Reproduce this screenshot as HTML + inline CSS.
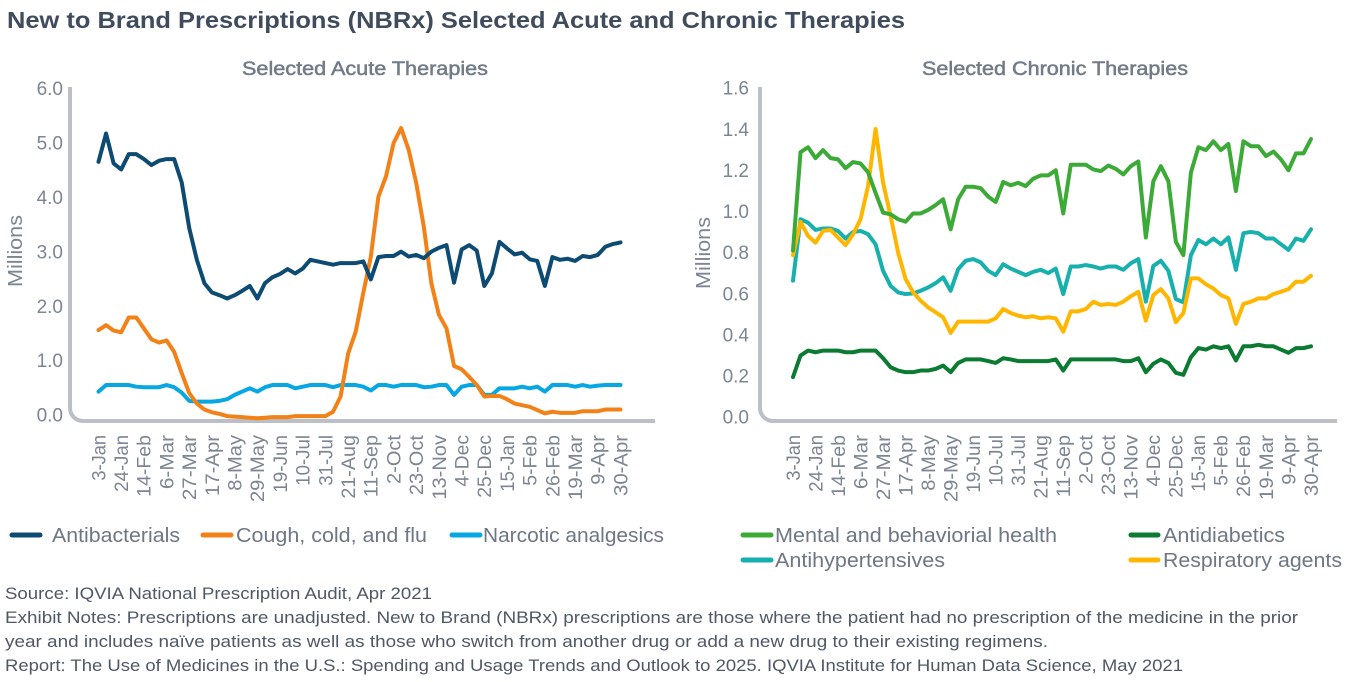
<!DOCTYPE html>
<html><head><meta charset="utf-8"><style>
html,body{margin:0;padding:0;background:#fff;}
svg{display:block;}
text{font-family:"Liberation Sans",Arial,sans-serif;}
</style></head><body>
<svg width="1352" height="682" viewBox="0 0 1352 682" xmlns="http://www.w3.org/2000/svg">
<rect width="1352" height="682" fill="#fff"/>
<text x="7" y="28" font-size="23" font-weight="bold" fill="#404c5e" textLength="898" lengthAdjust="spacingAndGlyphs">New to Brand Prescriptions (NBRx) Selected Acute and Chronic Therapies</text>
<text x="242" y="75" font-size="19" fill="#727b88" stroke="#727b88" stroke-width="0.5" textLength="246" lengthAdjust="spacingAndGlyphs">Selected Acute Therapies</text>
<text x="922" y="75" font-size="19" fill="#727b88" stroke="#727b88" stroke-width="0.5" textLength="266" lengthAdjust="spacingAndGlyphs">Selected Chronic Therapies</text>

<!-- axes -->
<path d="M70,87 V408 A13,13 0 0 0 83,421 H655" fill="none" stroke="#bcc0c6" stroke-width="4"/>
<path d="M760,87 V408 A13,13 0 0 0 773,421 H1337" fill="none" stroke="#bcc0c6" stroke-width="4"/>

<!-- Millions -->
<text transform="translate(15,251) rotate(-90)" text-anchor="middle" dy="0.35em" font-size="20" fill="#7c8593" textLength="72" lengthAdjust="spacingAndGlyphs">Millions</text>
<text transform="translate(703,253) rotate(-90)" text-anchor="middle" dy="0.35em" font-size="20" fill="#7c8593" textLength="72" lengthAdjust="spacingAndGlyphs">Millions</text>

<!-- left y ticks -->
<g font-size="19" fill="#7c8593" text-anchor="end">
<text x="63" y="415" dy="0.35em">0.0</text>
<text x="63" y="360.55" dy="0.35em">1.0</text>
<text x="63" y="306.1" dy="0.35em">2.0</text>
<text x="63" y="251.65" dy="0.35em">3.0</text>
<text x="63" y="197.2" dy="0.35em">4.0</text>
<text x="63" y="142.75" dy="0.35em">5.0</text>
<text x="63" y="88.3" dy="0.35em">6.0</text>
</g>
<!-- right y ticks -->
<g font-size="19" fill="#7c8593" text-anchor="end">
<text x="749" y="417" dy="0.35em">0.0</text>
<text x="749" y="375.9" dy="0.35em">0.2</text>
<text x="749" y="334.8" dy="0.35em">0.4</text>
<text x="749" y="293.6" dy="0.35em">0.6</text>
<text x="749" y="252.5" dy="0.35em">0.8</text>
<text x="749" y="211.4" dy="0.35em">1.0</text>
<text x="749" y="170.3" dy="0.35em">1.2</text>
<text x="749" y="129.2" dy="0.35em">1.4</text>
<text x="749" y="88" dy="0.35em">1.6</text>
</g>

<!-- left x labels -->
<g font-size="19.5" fill="#7c8593" text-anchor="end">
<text transform="translate(98.5,435) rotate(-90)" dy="0.35em" textLength="45.6" lengthAdjust="spacingAndGlyphs">3-Jan</text>
<text transform="translate(121.2,435) rotate(-90)" dy="0.35em" textLength="56.7" lengthAdjust="spacingAndGlyphs">24-Jan</text>
<text transform="translate(143.9,435) rotate(-90)" dy="0.35em" textLength="61.9" lengthAdjust="spacingAndGlyphs">14-Feb</text>
<text transform="translate(166.6,435) rotate(-90)" dy="0.35em" textLength="54.1" lengthAdjust="spacingAndGlyphs">6-Mar</text>
<text transform="translate(189.3,435) rotate(-90)" dy="0.35em" textLength="65.2" lengthAdjust="spacingAndGlyphs">27-Mar</text>
<text transform="translate(212.0,435) rotate(-90)" dy="0.35em" textLength="61.0" lengthAdjust="spacingAndGlyphs">17-Apr</text>
<text transform="translate(234.7,435) rotate(-90)" dy="0.35em" textLength="55.8" lengthAdjust="spacingAndGlyphs">8-May</text>
<text transform="translate(257.4,435) rotate(-90)" dy="0.35em" textLength="67.0" lengthAdjust="spacingAndGlyphs">29-May</text>
<text transform="translate(280.1,435) rotate(-90)" dy="0.35em" textLength="57.7" lengthAdjust="spacingAndGlyphs">19-Jun</text>
<text transform="translate(302.8,435) rotate(-90)" dy="0.35em" textLength="50.8" lengthAdjust="spacingAndGlyphs">10-Jul</text>
<text transform="translate(325.5,435) rotate(-90)" dy="0.35em" textLength="50.8" lengthAdjust="spacingAndGlyphs">31-Jul</text>
<text transform="translate(348.2,435) rotate(-90)" dy="0.35em" textLength="63.7" lengthAdjust="spacingAndGlyphs">21-Aug</text>
<text transform="translate(370.9,435) rotate(-90)" dy="0.35em" textLength="62.2" lengthAdjust="spacingAndGlyphs">11-Sep</text>
<text transform="translate(393.6,435) rotate(-90)" dy="0.35em" textLength="49.0" lengthAdjust="spacingAndGlyphs">2-Oct</text>
<text transform="translate(416.3,435) rotate(-90)" dy="0.35em" textLength="60.2" lengthAdjust="spacingAndGlyphs">23-Oct</text>
<text transform="translate(439.0,435) rotate(-90)" dy="0.35em" textLength="64.7" lengthAdjust="spacingAndGlyphs">13-Nov</text>
<text transform="translate(461.7,435) rotate(-90)" dy="0.35em" textLength="51.6" lengthAdjust="spacingAndGlyphs">4-Dec</text>
<text transform="translate(484.4,435) rotate(-90)" dy="0.35em" textLength="62.8" lengthAdjust="spacingAndGlyphs">25-Dec</text>
<text transform="translate(507.1,435) rotate(-90)" dy="0.35em" textLength="56.7" lengthAdjust="spacingAndGlyphs">15-Jan</text>
<text transform="translate(529.8,435) rotate(-90)" dy="0.35em" textLength="50.8" lengthAdjust="spacingAndGlyphs">5-Feb</text>
<text transform="translate(552.5,435) rotate(-90)" dy="0.35em" textLength="61.9" lengthAdjust="spacingAndGlyphs">26-Feb</text>
<text transform="translate(575.2,435) rotate(-90)" dy="0.35em" textLength="65.2" lengthAdjust="spacingAndGlyphs">19-Mar</text>
<text transform="translate(597.9,435) rotate(-90)" dy="0.35em" textLength="49.9" lengthAdjust="spacingAndGlyphs">9-Apr</text>
<text transform="translate(620.6,435) rotate(-90)" dy="0.35em" textLength="61.0" lengthAdjust="spacingAndGlyphs">30-Apr</text>
</g>
<!-- right x labels -->
<g font-size="19.5" fill="#7c8593" text-anchor="end">
<text transform="translate(793.0,435) rotate(-90)" dy="0.35em" textLength="45.6" lengthAdjust="spacingAndGlyphs">3-Jan</text>
<text transform="translate(815.5,435) rotate(-90)" dy="0.35em" textLength="56.7" lengthAdjust="spacingAndGlyphs">24-Jan</text>
<text transform="translate(838.0,435) rotate(-90)" dy="0.35em" textLength="61.9" lengthAdjust="spacingAndGlyphs">14-Feb</text>
<text transform="translate(860.6,435) rotate(-90)" dy="0.35em" textLength="54.1" lengthAdjust="spacingAndGlyphs">6-Mar</text>
<text transform="translate(883.1,435) rotate(-90)" dy="0.35em" textLength="65.2" lengthAdjust="spacingAndGlyphs">27-Mar</text>
<text transform="translate(905.6,435) rotate(-90)" dy="0.35em" textLength="61.0" lengthAdjust="spacingAndGlyphs">17-Apr</text>
<text transform="translate(928.1,435) rotate(-90)" dy="0.35em" textLength="55.8" lengthAdjust="spacingAndGlyphs">8-May</text>
<text transform="translate(950.6,435) rotate(-90)" dy="0.35em" textLength="67.0" lengthAdjust="spacingAndGlyphs">29-May</text>
<text transform="translate(973.2,435) rotate(-90)" dy="0.35em" textLength="57.7" lengthAdjust="spacingAndGlyphs">19-Jun</text>
<text transform="translate(995.7,435) rotate(-90)" dy="0.35em" textLength="50.8" lengthAdjust="spacingAndGlyphs">10-Jul</text>
<text transform="translate(1018.2,435) rotate(-90)" dy="0.35em" textLength="50.8" lengthAdjust="spacingAndGlyphs">31-Jul</text>
<text transform="translate(1040.7,435) rotate(-90)" dy="0.35em" textLength="63.7" lengthAdjust="spacingAndGlyphs">21-Aug</text>
<text transform="translate(1063.3,435) rotate(-90)" dy="0.35em" textLength="62.2" lengthAdjust="spacingAndGlyphs">11-Sep</text>
<text transform="translate(1085.8,435) rotate(-90)" dy="0.35em" textLength="49.0" lengthAdjust="spacingAndGlyphs">2-Oct</text>
<text transform="translate(1108.3,435) rotate(-90)" dy="0.35em" textLength="60.2" lengthAdjust="spacingAndGlyphs">23-Oct</text>
<text transform="translate(1130.8,435) rotate(-90)" dy="0.35em" textLength="64.7" lengthAdjust="spacingAndGlyphs">13-Nov</text>
<text transform="translate(1153.3,435) rotate(-90)" dy="0.35em" textLength="51.6" lengthAdjust="spacingAndGlyphs">4-Dec</text>
<text transform="translate(1175.9,435) rotate(-90)" dy="0.35em" textLength="62.8" lengthAdjust="spacingAndGlyphs">25-Dec</text>
<text transform="translate(1198.4,435) rotate(-90)" dy="0.35em" textLength="56.7" lengthAdjust="spacingAndGlyphs">15-Jan</text>
<text transform="translate(1220.9,435) rotate(-90)" dy="0.35em" textLength="50.8" lengthAdjust="spacingAndGlyphs">5-Feb</text>
<text transform="translate(1243.4,435) rotate(-90)" dy="0.35em" textLength="61.9" lengthAdjust="spacingAndGlyphs">26-Feb</text>
<text transform="translate(1266.0,435) rotate(-90)" dy="0.35em" textLength="65.2" lengthAdjust="spacingAndGlyphs">19-Mar</text>
<text transform="translate(1288.5,435) rotate(-90)" dy="0.35em" textLength="49.9" lengthAdjust="spacingAndGlyphs">9-Apr</text>
<text transform="translate(1311.0,435) rotate(-90)" dy="0.35em" textLength="61.0" lengthAdjust="spacingAndGlyphs">30-Apr</text>
</g>

<!-- left series -->
<g transform="translate(98.5,415) scale(7.565,-54.45)" fill="none" stroke-width="4" stroke-linejoin="round" stroke-linecap="round">
<polyline vector-effect="non-scaling-stroke" stroke="#06a7e2" points="0,0.43 1,0.55 2,0.55 3,0.55 4,0.55 5,0.52 6,0.51 7,0.51 8,0.51 9,0.55 10,0.51 11,0.41 12,0.26 13,0.245 14,0.245 15,0.245 16,0.26 17,0.29 18,0.37 19,0.43 20,0.49 21,0.43 22,0.51 23,0.55 24,0.55 25,0.55 26,0.49 27,0.52 28,0.55 29,0.55 30,0.55 31,0.51 32,0.55 33,0.55 34,0.55 35,0.52 36,0.45 37,0.55 38,0.55 39,0.52 40,0.55 41,0.55 42,0.55 43,0.51 44,0.52 45,0.55 46,0.55 47,0.37 48,0.52 49,0.55 50,0.55 51,0.37 52,0.37 53,0.49 54,0.49 55,0.49 56,0.52 57,0.49 58,0.52 59,0.43 60,0.55 61,0.55 62,0.55 63,0.52 64,0.55 65,0.52 66,0.54 67,0.55 68,0.55 69,0.55"/>
<polyline vector-effect="non-scaling-stroke" stroke="#f28118" points="0,1.56 1,1.65 2,1.55 3,1.52 4,1.79 5,1.79 6,1.59 7,1.39 8,1.33 9,1.37 10,1.16 11,0.77 12,0.40 13,0.21 14,0.10 15,0.05 16,0.02 17,-0.02 18,-0.03 19,-0.04 20,-0.05 21,-0.06 22,-0.05 23,-0.04 24,-0.04 25,-0.04 26,-0.02 27,-0.02 28,-0.02 29,-0.02 30,-0.02 31,0.06 32,0.34 33,1.13 34,1.53 35,2.24 36,2.91 37,4.01 38,4.38 39,4.99 40,5.27 41,4.87 42,4.26 43,3.46 44,2.42 45,1.84 46,1.59 47,0.90 48,0.84 49,0.70 50,0.55 51,0.34 52,0.35 53,0.35 54,0.29 55,0.21 56,0.18 57,0.15 58,0.09 59,0.03 60,0.06 61,0.04 62,0.04 63,0.04 64,0.07 65,0.07 66,0.07 67,0.10 68,0.10 69,0.10"/>
<polyline vector-effect="non-scaling-stroke" stroke="#0d4b73" points="0,4.65 1,5.17 2,4.62 3,4.51 4,4.79 5,4.79 6,4.70 7,4.59 8,4.67 9,4.70 10,4.70 11,4.27 12,3.43 13,2.85 14,2.42 15,2.25 16,2.20 17,2.14 18,2.20 19,2.28 20,2.37 21,2.14 22,2.42 23,2.53 24,2.59 25,2.68 26,2.60 27,2.69 28,2.85 29,2.82 30,2.79 31,2.76 32,2.79 33,2.79 34,2.79 35,2.82 36,2.49 37,2.90 38,2.92 39,2.92 40,3.00 41,2.91 42,2.94 43,2.88 44,3.00 45,3.07 46,3.12 47,2.43 48,3.04 49,3.12 50,3.02 51,2.37 52,2.60 53,3.18 54,3.06 55,2.95 56,2.98 57,2.86 58,2.83 59,2.37 60,2.90 61,2.85 62,2.87 63,2.83 64,2.92 65,2.90 66,2.94 67,3.09 68,3.14 69,3.17"/>
</g>

<!-- right series -->
<g transform="translate(793,417) scale(7.507,-205.6)" fill="none" stroke-width="4" stroke-linejoin="round" stroke-linecap="round">
<polyline vector-effect="non-scaling-stroke" stroke="#0a7b31" points="0,0.194 1,0.299 2,0.323 3,0.315 4,0.323 5,0.323 6,0.323 7,0.315 8,0.315 9,0.323 10,0.323 11,0.323 12,0.286 13,0.242 14,0.226 15,0.218 16,0.218 17,0.226 18,0.226 19,0.234 20,0.25 21,0.218 22,0.263 23,0.28 24,0.28 25,0.28 26,0.272 27,0.263 28,0.286 29,0.28 30,0.272 31,0.272 32,0.272 33,0.272 34,0.272 35,0.28 36,0.226 37,0.28 38,0.28 39,0.28 40,0.28 41,0.28 42,0.28 43,0.28 44,0.272 45,0.272 46,0.286 47,0.218 48,0.259 49,0.28 50,0.263 51,0.215 52,0.205 53,0.291 54,0.335 55,0.328 56,0.344 57,0.335 58,0.344 59,0.275 60,0.344 61,0.344 62,0.351 63,0.344 64,0.344 65,0.328 66,0.312 67,0.335 68,0.335 69,0.344"/>
<polyline vector-effect="non-scaling-stroke" stroke="#17b0ad" points="0,0.663 1,0.962 2,0.945 3,0.91 4,0.917 5,0.917 6,0.905 7,0.868 8,0.9 9,0.905 10,0.889 11,0.84 12,0.711 13,0.638 14,0.606 15,0.598 16,0.601 17,0.614 18,0.63 19,0.651 20,0.679 21,0.614 22,0.719 23,0.76 24,0.768 25,0.752 26,0.711 27,0.69 28,0.743 29,0.722 30,0.706 31,0.69 32,0.706 33,0.716 34,0.7 35,0.722 36,0.598 37,0.732 38,0.732 39,0.739 40,0.732 41,0.722 42,0.732 43,0.732 44,0.716 45,0.748 46,0.768 47,0.561 48,0.735 49,0.76 50,0.711 51,0.574 52,0.558 53,0.787 54,0.861 55,0.84 56,0.868 57,0.84 58,0.873 59,0.716 60,0.894 61,0.9 62,0.894 63,0.868 64,0.868 65,0.84 66,0.813 67,0.868 68,0.857 69,0.913"/>
<polyline vector-effect="non-scaling-stroke" stroke="#ffb600" points="0,0.787 1,0.949 2,0.881 3,0.848 4,0.905 5,0.91 6,0.873 7,0.836 8,0.889 9,0.962 10,1.123 11,1.401 12,1.139 13,0.978 14,0.8 15,0.671 16,0.606 17,0.566 18,0.533 19,0.509 20,0.485 21,0.409 22,0.464 23,0.464 24,0.464 25,0.464 26,0.464 27,0.48 28,0.525 29,0.506 30,0.493 31,0.485 32,0.49 33,0.48 34,0.485 35,0.48 36,0.415 37,0.514 38,0.514 39,0.525 40,0.561 41,0.545 42,0.55 43,0.545 44,0.561 45,0.587 46,0.609 47,0.469 48,0.593 49,0.622 50,0.577 51,0.461 52,0.506 53,0.674 54,0.674 55,0.646 56,0.625 57,0.593 58,0.577 59,0.453 60,0.55 61,0.561 62,0.577 63,0.577 64,0.598 65,0.609 66,0.622 67,0.658 68,0.658 69,0.687"/>
<polyline vector-effect="non-scaling-stroke" stroke="#3caa36" points="0,0.81 1,1.288 2,1.312 3,1.259 4,1.298 5,1.259 6,1.253 7,1.21 8,1.24 9,1.233 10,1.19 11,1.09 12,0.994 13,0.986 14,0.962 15,0.95 16,0.99 17,0.99 18,1.007 19,1.031 20,1.059 21,0.913 22,1.059 23,1.12 24,1.12 25,1.113 26,1.072 27,1.046 28,1.143 29,1.127 30,1.139 31,1.123 32,1.159 33,1.175 34,1.175 35,1.2 36,0.99 37,1.227 38,1.227 39,1.227 40,1.204 41,1.196 42,1.223 43,1.207 44,1.18 45,1.22 46,1.243 47,0.873 48,1.147 49,1.22 50,1.147 51,0.852 52,0.787 53,1.188 54,1.312 55,1.298 56,1.341 57,1.298 58,1.328 59,1.099 60,1.341 61,1.317 62,1.317 63,1.269 64,1.291 65,1.253 66,1.2 67,1.282 68,1.282 69,1.352"/>
</g>

<!-- legends -->
<g stroke-width="5" stroke-linecap="round">
<line x1="12" y1="535" x2="40" y2="535" stroke="#0d4b73"/>
<line x1="203" y1="535" x2="231" y2="535" stroke="#f28118"/>
<line x1="452" y1="535" x2="480" y2="535" stroke="#06a7e2"/>
<line x1="743" y1="535" x2="771" y2="535" stroke="#3caa36"/>
<line x1="1131" y1="535" x2="1158" y2="535" stroke="#0a7b31"/>
<line x1="743" y1="560" x2="771" y2="560" stroke="#17b0ad"/>
<line x1="1131" y1="560" x2="1158" y2="560" stroke="#ffb600"/>
</g>
<g font-size="20" fill="#6e7785">
<text x="52" y="542" textLength="128" lengthAdjust="spacingAndGlyphs">Antibacterials</text>
<text x="236" y="542" textLength="191" lengthAdjust="spacingAndGlyphs">Cough, cold, and flu</text>
<text x="483" y="542" textLength="181" lengthAdjust="spacingAndGlyphs">Narcotic analgesics</text>
<text x="775" y="542" textLength="282" lengthAdjust="spacingAndGlyphs">Mental and behaviorial health</text>
<text x="1163" y="542" textLength="122" lengthAdjust="spacingAndGlyphs">Antidiabetics</text>
<text x="775" y="567" textLength="170" lengthAdjust="spacingAndGlyphs">Antihypertensives</text>
<text x="1163" y="567" textLength="179" lengthAdjust="spacingAndGlyphs">Respiratory agents</text>
</g>

<!-- footer -->
<g font-size="16.5" fill="#4f5866">
<text x="5" y="599" textLength="427" lengthAdjust="spacingAndGlyphs">Source: IQVIA National Prescription Audit, Apr 2021</text>
<text x="5" y="623" textLength="1293" lengthAdjust="spacingAndGlyphs">Exhibit Notes: Prescriptions are unadjusted. New to Brand (NBRx) prescriptions are those where the patient had no prescription of the medicine in the prior</text>
<text x="5" y="647" textLength="1043" lengthAdjust="spacingAndGlyphs">year and includes naïve patients as well as those who switch from another drug or add a new drug to their existing regimens.</text>
<text x="5" y="671" textLength="1178" lengthAdjust="spacingAndGlyphs">Report: The Use of Medicines in the U.S.: Spending and Usage Trends and Outlook to 2025. IQVIA Institute for Human Data Science, May 2021</text>
</g>
</svg>
</body></html>
